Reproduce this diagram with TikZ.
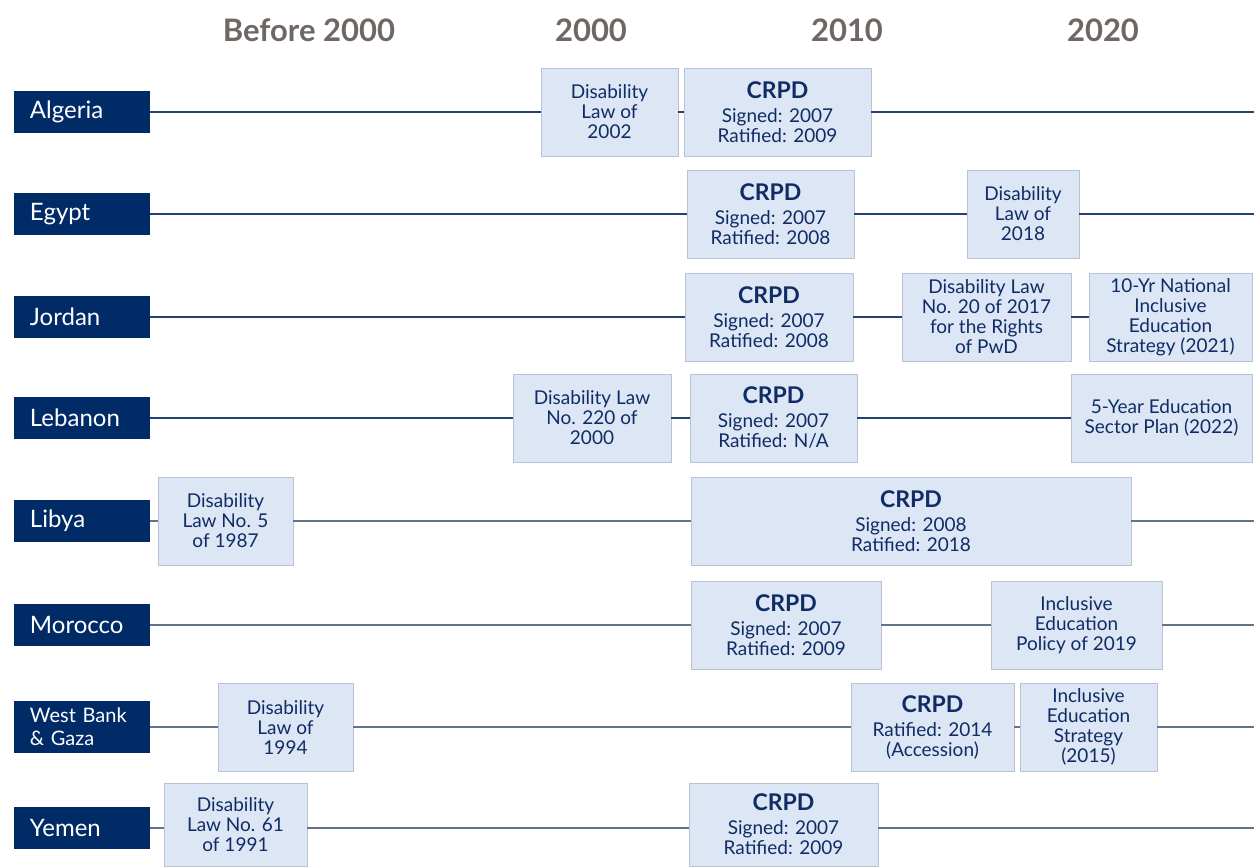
\documentclass[tikz,border=0pt]{standalone}
\usepackage{fontspec}
\setmainfont{Lato}
\usetikzlibrary{positioning}

\definecolor{navy}{HTML}{102C64}
\definecolor{cbox}{HTML}{002B66}
\definecolor{evfill}{HTML}{DCE6F4}
\definecolor{evline}{HTML}{B8C2D0}
\definecolor{hgrey}{HTML}{6E6764}
\definecolor{tlnavy}{HTML}{234173}
\definecolor{tlslate}{HTML}{64738C}

\newcommand{\crpd}{{\fontsize{11.5}{12}\selectfont\bfseries CRPD}\\[2pt]}

\begin{document}
\begin{tikzpicture}[x=0.5pt,y=-0.5pt]
	\tikzstyle{country} = [fill=cbox, text=white, minimum width=68pt, minimum height=21pt, text width=52pt, inner xsep=8pt, align=left, font=\fontsize{12}{13}\selectfont]
	\tikzstyle{event} = [draw=evline, fill=evfill, text=navy, minimum height=44pt, inner sep=2pt, align=center, font=\fontsize{9.5}{10}\selectfont]
	\tikzstyle{year} = [text=hgrey, font=\bfseries\fontsize{15.5}{17}\selectfont]
	\tikzstyle{tl} = [draw=tlnavy, line width=0.75pt]
	\tikzstyle{tlg} = [draw=tlslate, line width=0.75pt]
	
	\useasboundingbox (0,0) rectangle (1254,867);
	
	% decades
	\node [year] (yBefore) at (309,30) {Before 2000};
	\node [year] (y2000) at (591,30) {2000};
	\node [year] (y2010) at (847,30) {2010};
	\node [year] (y2020) at (1103,30) {2020};
	
	% countries
	\node [country] (alg) at (82,112) {Algeria};
	\node [country] (egy) at (82,214) {Egypt};
	\node [country] (jor) at (82,317) {Jordan};
	\node [country] (leb) at (82,418) {Lebanon};
	\node [country] (lib) at (82,521) {Libya};
	\node [country] (mor) at (82,625) {Morocco};
	\node [country, font=\fontsize{10}{11.5}\selectfont] (wbg) at (82,727) {West Bank\\\& Gaza};
	\node [country] (yem) at (82,828) {Yemen};
	
	\node [event, minimum width=68.5pt] (algLaw) at (609.5,112) {Disability\\Law of\\2002};
	\node [event, minimum width=93.5pt] (algCrpd) at (777.5,112) {\crpd Signed: 2007\\Ratified: 2009};
	\coordinate (algEnd) at (1254,112);
	
	\node [event, minimum width=83.5pt] (egyCrpd) at (770.5,214) {\crpd Signed: 2007\\Ratified: 2008};
	\node [event, minimum width=56pt] (egyLaw) at (1023,214) {Disability\\Law of\\2018};
	\coordinate (egyEnd) at (1254,214);
	
	\node [event, minimum width=84pt] (jorCrpd) at (769,317) {\crpd Signed: 2007\\Ratified: 2008};
	\node [event, minimum width=84.5pt] (jorLaw) at (986.5,317) {Disability Law\\No. 20 of 2017\\for the Rights\\of PwD};
	\node [event, minimum width=81.5pt] (jorStrat) at (1170.5,317) {10-Yr National\\Inclusive\\Education\\Strategy (2021)};
	
	\node [event, minimum width=79pt] (lebLaw) at (592,418) {Disability Law\\No. 220 of\\2000};
	\node [event, minimum width=83.5pt] (lebCrpd) at (773.5,418) {\crpd Signed: 2007\\Ratified: N/A};
	\node [event, minimum width=90.5pt] (lebPlan) at (1161.5,418) {5-Year Education\\Sector Plan (2022)};
	
	\node [event, minimum width=67.5pt] (libLaw) at (225.5,521) {Disability\\Law No. 5\\of 1987};
	\node [event, minimum width=220pt] (libCrpd) at (911,521) {\crpd Signed: 2008\\Ratified: 2018};
	\coordinate (libEnd) at (1254,521);
	
	\node [event, minimum width=95pt] (morCrpd) at (786,625) {\crpd Signed: 2007\\Ratified: 2009};
	\node [event, minimum width=85.5pt] (morPol) at (1076.5,625) {Inclusive\\Education\\Policy of 2019};
	\coordinate (morEnd) at (1254,625);
	
	\node [event, minimum width=67.5pt] (wbgLaw) at (285.5,727) {Disability\\Law of\\1994};
	\node [event, minimum width=81.5pt] (wbgCrpd) at (932.5,727) {\crpd Ratified: 2014\\(Accession)};
	\node [event, minimum width=68.5pt] (wbgStrat) at (1088.5,727) {Inclusive\\Education\\Strategy\\(2015)};
	\coordinate (wbgEnd) at (1254,727);
	
	\node [event, minimum width=71.5pt, minimum height=41.5pt] (yemLaw) at (235.5,824.5) {Disability\\Law No. 61\\of 1991};
	\node [event, minimum width=94.5pt, minimum height=41.5pt] (yemCrpd) at (783.5,824.5) {\crpd Signed: 2007\\Ratified: 2009};
	\coordinate (yemEnd) at (1254,828);
	
	\draw [tl] (alg) -- (algLaw);
	\draw [tl] (algLaw) -- (algCrpd);
	\draw [tl] (algCrpd) -- (algEnd);
	\draw [tl] (egy) -- (egyCrpd);
	\draw [tl] (egyCrpd) -- (egyLaw);
	\draw [tl] (egyLaw) -- (egyEnd);
	\draw [tl] (jor) -- (jorCrpd);
	\draw [tl] (jorCrpd) -- (jorLaw);
	\draw [tl] (jorLaw) -- (jorStrat);
	\draw [tl] (leb) -- (lebLaw);
	\draw [tl] (lebLaw) -- (lebCrpd);
	\draw [tl] (lebCrpd) -- (lebPlan);
	\draw [tlg] (lib) -- (libLaw);
	\draw [tlg] (libLaw) -- (libCrpd);
	\draw [tlg] (libCrpd) -- (libEnd);
	\draw [tlg] (mor) -- (morCrpd);
	\draw [tlg] (morCrpd) -- (morPol);
	\draw [tlg] (morPol) -- (morEnd);
	\draw [tlg] (wbg) -- (wbgLaw);
	\draw [tlg] (wbgLaw) -- (wbgCrpd);
	\draw [tlg] (wbgCrpd) -- (wbgStrat);
	\draw [tlg] (wbgStrat) -- (wbgEnd);
	\draw [tlg] (yem.east) -- (yem.east -| yemLaw.west);
	\draw [tlg] (yem.east -| yemLaw.east) -- (yem.east -| yemCrpd.west);
	\draw [tlg] (yem.east -| yemCrpd.east) -- (yemEnd);
\end{tikzpicture}
\end{document}
